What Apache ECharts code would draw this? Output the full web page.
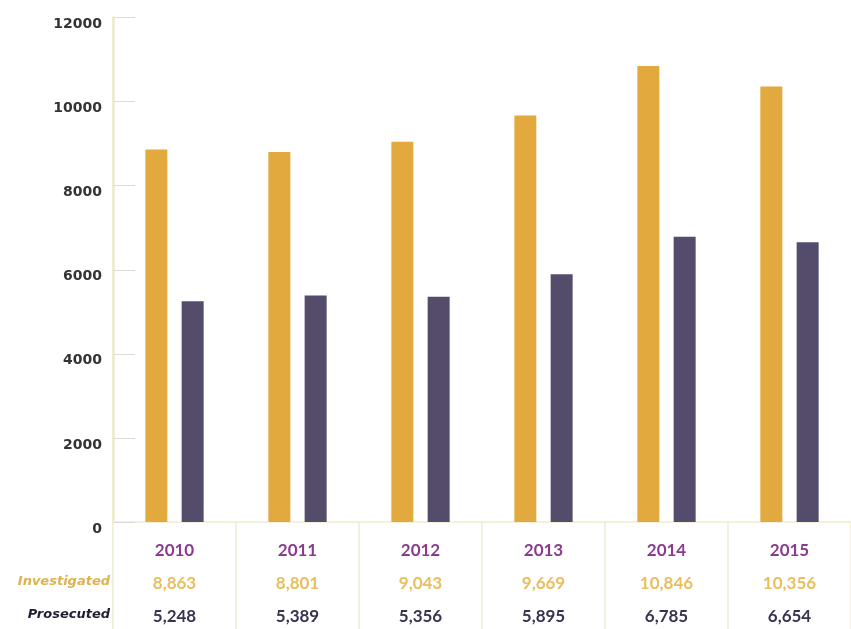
<!DOCTYPE html>
<html>
<head>
<meta charset="utf-8">
<script src="https://cdn.jsdelivr.net/npm/echarts@6/dist/echarts.min.js"></script>
<style>
  html, body { margin: 0; padding: 0; background: #ffffff; }
  #chart { width: 851px; height: 629px; }
</style>
</head>
<body>
<div id="chart"></div>
<script>
// Cases investigated vs. prosecuted per year
const years = ['2010', '2011', '2012', '2013', '2014', '2015'];
const investigated = [8863, 8801, 9043, 9669, 10846, 10356];
const prosecuted = [5248, 5389, 5356, 5895, 6785, 6654];
const yTicks = { min: 0, max: 12000, step: 2000 };
const rowNames = ['Investigated', 'Prosecuted'];

const GOLD = '#e2a93f';
const PURPLE = '#554c6c';
const LINE = '#efedcf';

const fmt = v => v.toLocaleString('en-US');

const chart = echarts.init(document.getElementById('chart'));
chart.setOption({
  backgroundColor: '#ffffff',
  animation: false,
  grid: { left: 113, top: 17.5, width: 741, bottom: 107, containLabel: false },
  xAxis: {
    type: 'category',
    data: years,
    boundaryGap: true,
    axisLine: { show: true, lineStyle: { color: LINE, width: 1.5 } },
    axisTick: { show: true, alignWithLabel: false, length: 110, lineStyle: { color: LINE, width: 1.5 } },
    axisLabel: {
      margin: 12,
      formatter: (val, idx) =>
        '{y|' + val + '}\n{i|' + fmt(investigated[idx]) + '}\n{p|' + fmt(prosecuted[idx]) + '}',
      rich: {
        y: { color: '#8a3b8f', fontFamily: 'Lato', fontSize: 17, lineHeight: 33, fontWeight: 'bold' },
        i: { color: '#e8be5e', fontFamily: 'Lato', fontSize: 17, lineHeight: 33, fontWeight: 'bold' },
        p: { color: '#3a3350', fontFamily: 'Lato', fontSize: 17, lineHeight: 33, fontWeight: 'bold' }
      }
    }
  },
  yAxis: {
    type: 'value',
    min: yTicks.min,
    max: yTicks.max,
    interval: yTicks.step,
    axisLine: { show: true, lineStyle: { color: LINE, width: 3 } },
    axisTick: { show: true, inside: true, length: 22, lineStyle: { color: '#dcdcd4', width: 1 } },
    splitLine: { show: false },
    axisLabel: {
      margin: 11,
      verticalAlign: 'top',
      color: '#333333',
      fontFamily: 'DejaVu Sans',
      fontWeight: 'bold',
      fontSize: 14,
      formatter: v => String(v)
    }
  },
  series: [
    {
      name: rowNames[0],
      type: 'bar',
      data: investigated,
      barWidth: 22,
      barGap: '65%',
      itemStyle: { color: GOLD }
    },
    {
      name: rowNames[1],
      type: 'bar',
      data: prosecuted,
      barWidth: 22,
      barGap: '65%',
      itemStyle: { color: PURPLE }
    }
  ],
  graphic: [
    {
      type: 'text', right: 741, top: 575,
      style: { text: rowNames[0], fill: '#dcb34e', font: 'italic bold 13px "DejaVu Sans"', textAlign: 'right' }
    },
    {
      type: 'text', right: 741, top: 608,
      style: { text: rowNames[1], fill: '#221d33', font: 'italic bold 13px "DejaVu Sans"', textAlign: 'right' }
    }
  ]
});
</script>
</body>
</html>
